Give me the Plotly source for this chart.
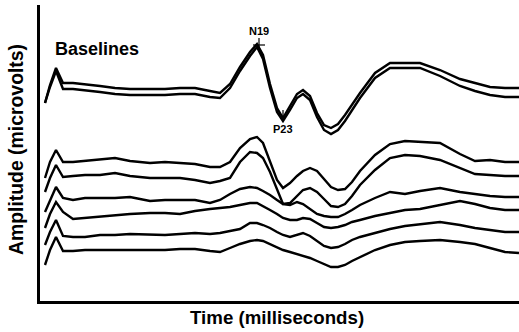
import plotly.graph_objects as go

# Time grid (milliseconds)
time_ms = [1.0, 2.0, 3.2, 4.6, 6.6, 9.0, 12.0, 15.0, 18.0, 22.0, 25.0, 28.0, 31.0, 34.0, 36.0,
           38.0, 40.0, 42.0, 43.4, 44.6, 46.0, 47.4, 48.6, 50.0, 51.4, 52.6, 54.0, 55.4, 56.8,
           58.2, 59.6, 61.0, 62.4, 64.0, 67.0, 70.0, 73.0, 76.0, 80.0, 84.0, 87.0, 90.0, 93.0, 95.8]

# Baseline recordings (two superimposed traces), amplitude in microvolts (offset display)
baseline_a = [19.8, 21.6, 23.3, 21.8, 21.8, 21.7, 21.5, 21.3, 21.2, 21.2, 21.2, 21.3, 21.3, 21.0, 20.8,
              21.7, 23.4, 24.9, 25.7, 24.6, 21.7, 19.3, 18.3, 19.5, 20.7, 21.1, 20.5, 18.8, 17.6,
              17.3, 17.7, 18.6, 19.6, 20.8, 22.8, 23.8, 23.8, 23.8, 23.1, 22.2, 21.8, 21.4, 21.3, 21.3]
baseline_b = [19.8, 21.4, 23.0, 21.2, 21.2, 21.1, 20.9, 20.7, 20.6, 20.6, 20.6, 20.7, 20.7, 20.4, 20.3,
              21.3, 23.0, 24.5, 25.4, 24.2, 21.3, 18.9, 18.0, 19.1, 20.3, 20.7, 20.1, 18.4, 17.1,
              16.7, 17.1, 18.0, 19.1, 20.3, 22.3, 23.3, 23.3, 23.3, 22.5, 21.5, 21.0, 20.6, 20.4, 20.4]

# Subsequent recordings (stacked, top to bottom)
trace_1 = [12.3, 13.9, 15.1, 13.9, 13.9, 14.0, 14.1, 14.3, 14.0, 13.8, 13.9, 13.8, 13.7, 13.4, 13.4,
           13.9, 15.3, 16.2, 16.4, 15.8, 13.9, 12.1, 11.3, 11.8, 12.5, 13.0, 13.3, 13.0, 12.2,
           11.4, 11.1, 11.2, 11.9, 13.0, 14.6, 15.7, 16.0, 15.9, 15.8, 14.7, 14.0, 14.1, 13.9, 13.9]
trace_2 = [10.9, 12.3, 13.6, 12.4, 12.5, 12.6, 12.6, 12.8, 12.5, 12.3, 12.3, 12.3, 12.1, 11.8, 12.0,
           12.3, 13.9, 14.9, 14.8, 14.3, 12.9, 11.1, 9.7, 9.8, 10.5, 11.1, 11.3, 10.9, 10.2,
           9.5, 9.4, 9.7, 10.5, 11.6, 13.1, 14.3, 14.6, 14.5, 14.1, 13.3, 12.7, 12.6, 12.5, 12.5]
trace_3 = [8.9, 10.1, 11.4, 10.3, 10.1, 10.3, 10.3, 10.3, 10.4, 10.0, 10.1, 10.1, 10.1, 9.8, 10.1,
           10.7, 11.2, 11.4, 11.3, 11.0, 10.6, 10.1, 9.7, 9.6, 9.9, 9.7, 9.2, 8.7, 8.5,
           8.4, 8.4, 8.7, 9.1, 9.6, 10.3, 10.9, 10.7, 11.0, 11.3, 10.9, 10.7, 10.5, 10.4, 10.4]
trace_4 = [7.3, 8.7, 9.9, 8.9, 8.2, 8.3, 8.5, 8.6, 8.7, 8.8, 8.8, 8.7, 9.0, 9.2, 9.3,
           9.4, 9.6, 9.8, 9.8, 9.5, 9.1, 8.7, 8.3, 8.1, 8.1, 8.3, 8.2, 7.8, 7.4,
           7.3, 7.4, 7.6, 7.9, 8.1, 8.5, 8.8, 9.1, 9.2, 9.6, 10.0, 9.7, 9.3, 9.1, 9.1]
trace_5 = [5.6, 6.9, 8.1, 6.5, 6.4, 6.4, 6.6, 6.6, 6.7, 6.6, 6.6, 6.7, 6.8, 6.7, 6.8,
           7.0, 7.2, 7.8, 7.8, 7.6, 7.3, 6.9, 6.6, 6.4, 6.6, 6.8, 6.5, 6.0, 5.5,
           5.3, 5.4, 5.7, 6.1, 6.4, 6.8, 7.2, 7.5, 7.7, 7.9, 7.6, 7.3, 7.1, 6.9, 6.9]
trace_6 = [3.6, 5.1, 6.4, 5.0, 5.0, 5.1, 5.1, 5.1, 5.1, 5.1, 5.1, 5.2, 5.2, 5.0, 4.9,
           5.3, 5.7, 6.0, 6.1, 6.0, 5.7, 5.4, 5.1, 4.9, 4.7, 4.5, 4.3, 4.0, 3.7,
           3.4, 3.4, 3.6, 4.0, 4.4, 5.1, 5.6, 5.9, 6.0, 6.1, 5.9, 5.7, 5.3, 4.9, 4.8]

series = [baseline_a, baseline_b, trace_1, trace_2, trace_3, trace_4, trace_5, trace_6]

# Component labels
peak_labels = ["N19", "P23"]
peak_time = [43.8, 48.6]
peak_amp = [25.6, 18.3]
label_amp = [27.0, 17.2]

X_RANGE = [0, 95.8]
Y_RANGE = [0, 29.6]

fig = go.Figure()
for s in series:
    fig.add_trace(go.Scatter(x=time_ms, y=s, mode="lines",
                             line=dict(color="black", width=2.4),
                             showlegend=False, hoverinfo="skip"))

FONT = "Liberation Sans, Arial, sans-serif"

# N19 cross marker and P23 tick
fig.add_shape(type="line", x0=peak_time[0], x1=peak_time[0], y0=peak_amp[0] - 0.3, y1=peak_amp[0] + 0.7,
              line=dict(color="black", width=1.2))
fig.add_shape(type="line", x0=peak_time[0] - 1.2, x1=peak_time[0] + 1.2, y0=peak_amp[0], y1=peak_amp[0],
              line=dict(color="black", width=1.2))
fig.add_shape(type="line", x0=peak_time[1], x1=peak_time[1], y0=peak_amp[1], y1=peak_amp[1] + 0.8,
              line=dict(color="black", width=1.2))

for lab, t, a in zip(peak_labels, peak_time, label_amp):
    fig.add_annotation(x=t, y=a, text="<b>" + lab + "</b>", showarrow=False,
                       xanchor="center", yanchor="middle",
                       font=dict(family=FONT, size=11, color="black"))

fig.add_annotation(xref="paper", yref="paper", x=0.118, y=0.851, text="<b>Baselines</b>",
                   xanchor="center", yanchor="middle",
                   showarrow=False, font=dict(family=FONT, size=18, color="black"))
fig.add_annotation(xref="paper", yref="paper", x=0.495, y=-0.0574, text="<b>Time (milliseconds)</b>",
                   xanchor="center", yanchor="middle",
                   showarrow=False, font=dict(family=FONT, size=18.7, color="black"))
fig.add_annotation(xref="paper", yref="paper", x=-0.05, y=0.51, text="<b>Amplitude (microvolts)</b>",
                   xanchor="center", yanchor="middle",
                   textangle=-90, showarrow=False, font=dict(family=FONT, size=19.4, color="black"))

fig.update_xaxes(range=X_RANGE, showgrid=False, zeroline=False, showticklabels=False, ticks="",
                 showline=True, linecolor="black", linewidth=3)
fig.update_yaxes(range=Y_RANGE, showgrid=False, zeroline=False, showticklabels=False, ticks="",
                 showline=True, linecolor="black", linewidth=3)

fig.update_layout(width=519, height=332, margin=dict(l=40, r=0, t=5, b=31),
                  plot_bgcolor="white", paper_bgcolor="white")

fig.write_html("out.html", config={"displayModeBar": False},
               post_script="document.body.style.margin='0';document.body.style.overflow='hidden';")
